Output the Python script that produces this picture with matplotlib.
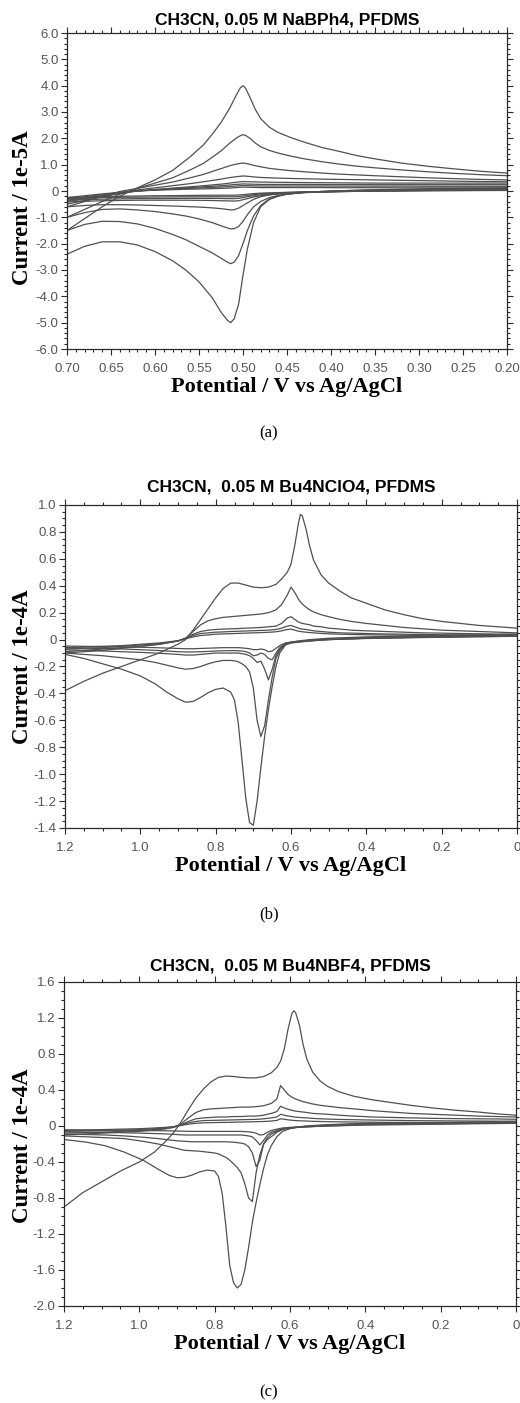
import numpy as np
import matplotlib.pyplot as plt
from matplotlib.ticker import MultipleLocator

plt.rcParams['font.family'] = ['Liberation Sans', 'DejaVu Sans']

# ---------------- panel (a): CH3CN, 0.05 M NaBPh4 ----------------
# forward (anodic) sweep 0.70 -> 0.20 V, one row per cycle
a_fwd_v = [0.70, 0.68, 0.66, 0.64, 0.62, 0.60, 0.58, 0.56, 0.545, 0.535, 0.525, 0.515,
           0.508, 0.503, 0.500, 0.497, 0.492, 0.486, 0.480, 0.470, 0.460, 0.445, 0.430,
           0.410, 0.390, 0.370, 0.350, 0.320, 0.290, 0.260, 0.230, 0.200]
a_fwd_i = [
    [-1.50, -1.05, -0.60, -0.20, 0.12, 0.42, 0.78, 1.30, 1.75, 2.15, 2.60, 3.15, 3.62, 3.92, 4.00, 3.90,
     3.55, 3.10, 2.75, 2.42, 2.22, 2.02, 1.85, 1.65, 1.50, 1.34, 1.22, 1.06, 0.94, 0.84, 0.75, 0.68],
    [-1.00, -0.70, -0.40, -0.12, 0.10, 0.30, 0.50, 0.80, 1.05, 1.28, 1.52, 1.82, 2.00, 2.10, 2.14, 2.11,
     2.00, 1.82, 1.68, 1.54, 1.44, 1.32, 1.22, 1.11, 1.02, 0.94, 0.88, 0.80, 0.73, 0.67, 0.62, 0.58],
    [-0.60, -0.40, -0.20, -0.02, 0.10, 0.22, 0.34, 0.50, 0.63, 0.74, 0.85, 0.96, 1.02, 1.05, 1.06, 1.05,
     1.01, 0.96, 0.92, 0.86, 0.82, 0.77, 0.73, 0.68, 0.64, 0.61, 0.58, 0.54, 0.50, 0.47, 0.44, 0.42],
    [-0.50, -0.36, -0.22, -0.08, 0.04, 0.12, 0.20, 0.28, 0.35, 0.40, 0.45, 0.51, 0.54, 0.56, 0.57, 0.565,
     0.55, 0.53, 0.515, 0.50, 0.49, 0.475, 0.465, 0.45, 0.44, 0.43, 0.42, 0.405, 0.39, 0.375, 0.36, 0.35],
    [-0.40, -0.30, -0.20, -0.09, 0.00, 0.06, 0.11, 0.16, 0.20, 0.23, 0.26, 0.30, 0.33, 0.35, 0.36, 0.355,
     0.35, 0.345, 0.34, 0.335, 0.33, 0.325, 0.32, 0.315, 0.31, 0.305, 0.30, 0.30, 0.30, 0.30, 0.30, 0.30],
    [-0.35, -0.26, -0.17, -0.08, 0.00, 0.05, 0.09, 0.13, 0.16, 0.18, 0.20, 0.23, 0.25, 0.26, 0.27, 0.265,
     0.26, 0.255, 0.25, 0.25, 0.25, 0.25, 0.25, 0.245, 0.245, 0.245, 0.24, 0.24, 0.24, 0.24, 0.24, 0.24],
    [-0.30, -0.22, -0.14, -0.06, 0.00, 0.04, 0.07, 0.10, 0.12, 0.14, 0.15, 0.17, 0.19, 0.20, 0.21, 0.205,
     0.20, 0.195, 0.19, 0.19, 0.19, 0.19, 0.19, 0.19, 0.185, 0.185, 0.185, 0.185, 0.18, 0.18, 0.18, 0.18],
    [-0.25, -0.18, -0.11, -0.05, 0.00, 0.03, 0.05, 0.07, 0.08, 0.09, 0.10, 0.11, 0.13, 0.14, 0.15, 0.145,
     0.14, 0.135, 0.13, 0.13, 0.13, 0.13, 0.13, 0.13, 0.125, 0.125, 0.125, 0.12, 0.12, 0.12, 0.12, 0.12],
]
# reverse (cathodic) sweep 0.20 -> 0.70 V
a_rev_v = [0.20, 0.25, 0.30, 0.35, 0.40, 0.43, 0.45, 0.46, 0.47, 0.48, 0.488, 0.495, 0.500, 0.505,
           0.510, 0.514, 0.518, 0.525, 0.535, 0.550, 0.565, 0.580, 0.600, 0.620, 0.640, 0.660, 0.680, 0.700]
a_rev_i = [
    [0.12, 0.10, 0.08, 0.05, 0.00, -0.05, -0.12, -0.20, -0.32, -0.60, -1.20, -2.20, -3.20, -4.30,
     -4.85, -5.00, -4.90, -4.60, -4.05, -3.45, -3.00, -2.65, -2.30, -2.05, -1.93, -1.93, -2.10, -2.40],
    [0.10, 0.08, 0.06, 0.04, 0.00, -0.05, -0.12, -0.18, -0.30, -0.55, -0.95, -1.50, -2.00, -2.45,
     -2.70, -2.76, -2.70, -2.55, -2.35, -2.10, -1.85, -1.65, -1.42, -1.25, -1.16, -1.15, -1.27, -1.50],
    [0.08, 0.06, 0.04, 0.02, -0.02, -0.06, -0.12, -0.17, -0.25, -0.40, -0.60, -0.90, -1.15, -1.35,
     -1.43, -1.44, -1.40, -1.32, -1.20, -1.06, -0.95, -0.87, -0.78, -0.72, -0.68, -0.70, -0.82, -1.00],
    [0.06, 0.05, 0.03, 0.01, -0.02, -0.05, -0.08, -0.11, -0.15, -0.22, -0.32, -0.45, -0.55, -0.65,
     -0.71, -0.72, -0.70, -0.67, -0.64, -0.61, -0.59, -0.57, -0.55, -0.53, -0.52, -0.52, -0.55, -0.60],
    [0.05, 0.04, 0.02, 0.00, -0.03, -0.06, -0.09, -0.11, -0.14, -0.18, -0.23, -0.29, -0.33, -0.37,
     -0.38, -0.38, -0.375, -0.37, -0.36, -0.355, -0.35, -0.35, -0.35, -0.35, -0.36, -0.37, -0.39, -0.42],
    [0.04, 0.03, 0.02, 0.00, -0.03, -0.05, -0.07, -0.09, -0.11, -0.14, -0.18, -0.22, -0.25, -0.28,
     -0.29, -0.29, -0.29, -0.285, -0.28, -0.28, -0.28, -0.285, -0.29, -0.29, -0.30, -0.31, -0.33, -0.35],
    [0.03, 0.02, 0.01, 0.00, -0.02, -0.04, -0.06, -0.07, -0.09, -0.11, -0.14, -0.17, -0.19, -0.21,
     -0.22, -0.22, -0.22, -0.22, -0.22, -0.22, -0.22, -0.225, -0.23, -0.235, -0.24, -0.25, -0.27, -0.30],
    [0.02, 0.015, 0.01, 0.00, -0.02, -0.03, -0.05, -0.06, -0.07, -0.08, -0.10, -0.12, -0.14, -0.15,
     -0.16, -0.16, -0.16, -0.16, -0.16, -0.165, -0.17, -0.175, -0.18, -0.19, -0.20, -0.21, -0.23, -0.25],
]

# ---------------- panel (b): CH3CN, 0.05 M Bu4NClO4 ----------------
b_fwd_v = [1.20, 1.15, 1.10, 1.05, 1.00, 0.95, 0.92, 0.90, 0.88, 0.86, 0.84, 0.82, 0.80, 0.78, 0.76,
           0.74, 0.72, 0.70, 0.68, 0.66, 0.64, 0.625, 0.61, 0.60, 0.59, 0.58, 0.575, 0.57, 0.56, 0.55,
           0.54, 0.52, 0.50, 0.47, 0.44, 0.40, 0.35, 0.30, 0.25, 0.20, 0.15, 0.10, 0.05, 0.00]
b_fwd_i = [
    [-0.38, -0.31, -0.25, -0.20, -0.15, -0.10, -0.06, -0.035, 0.00, 0.07, 0.15, 0.23, 0.31, 0.38, 0.42,
     0.42, 0.405, 0.39, 0.385, 0.39, 0.41, 0.45, 0.50, 0.56, 0.70, 0.87, 0.93, 0.92, 0.82, 0.69,
     0.59, 0.48, 0.42, 0.36, 0.31, 0.27, 0.22, 0.185, 0.155, 0.135, 0.12, 0.105, 0.095, 0.085],
    [-0.10, -0.09, -0.08, -0.065, -0.05, -0.035, -0.02, -0.01, 0.01, 0.06, 0.11, 0.14, 0.155, 0.165, 0.17,
     0.175, 0.18, 0.185, 0.19, 0.20, 0.22, 0.26, 0.33, 0.39, 0.35, 0.30, 0.28, 0.265, 0.24, 0.22,
     0.205, 0.185, 0.17, 0.15, 0.135, 0.12, 0.105, 0.09, 0.08, 0.07, 0.065, 0.06, 0.055, 0.05],
    [-0.09, -0.08, -0.07, -0.06, -0.05, -0.035, -0.02, -0.01, 0.01, 0.04, 0.06, 0.07, 0.075, 0.078, 0.08,
     0.082, 0.085, 0.087, 0.09, 0.095, 0.10, 0.12, 0.16, 0.17, 0.15, 0.13, 0.125, 0.12, 0.115, 0.11,
     0.10, 0.095, 0.085, 0.078, 0.07, 0.065, 0.06, 0.055, 0.05, 0.048, 0.045, 0.043, 0.041, 0.04],
    [-0.07, -0.065, -0.06, -0.05, -0.04, -0.03, -0.02, -0.01, 0.01, 0.03, 0.045, 0.05, 0.055, 0.057, 0.06,
     0.062, 0.064, 0.066, 0.068, 0.07, 0.075, 0.085, 0.10, 0.105, 0.095, 0.085, 0.08, 0.078, 0.075, 0.07,
     0.065, 0.06, 0.055, 0.05, 0.048, 0.045, 0.042, 0.04, 0.038, 0.036, 0.035, 0.034, 0.033, 0.032],
    [-0.06, -0.055, -0.05, -0.045, -0.035, -0.025, -0.015, -0.008, 0.005, 0.02, 0.03, 0.035, 0.04, 0.042, 0.044,
     0.046, 0.048, 0.05, 0.052, 0.054, 0.058, 0.065, 0.075, 0.078, 0.07, 0.062, 0.06, 0.058, 0.055, 0.052,
     0.05, 0.046, 0.043, 0.04, 0.038, 0.036, 0.034, 0.032, 0.03, 0.029, 0.028, 0.027, 0.026, 0.025],
]
b_rev_v = [0.00, 0.10, 0.20, 0.30, 0.40, 0.50, 0.55, 0.58, 0.60, 0.615, 0.63, 0.64, 0.65, 0.66, 0.67,
           0.68, 0.69, 0.70, 0.71, 0.72, 0.73, 0.74, 0.75, 0.76, 0.78, 0.80, 0.82, 0.84, 0.86, 0.88,
           0.90, 0.93, 0.96, 1.00, 1.05, 1.10, 1.15, 1.20]
b_rev_i = [
    [0.04, 0.035, 0.03, 0.025, 0.02, 0.01, 0.00, -0.01, -0.02, -0.04, -0.10, -0.20, -0.35, -0.52, -0.72,
     -0.95, -1.20, -1.38, -1.36, -1.18, -0.90, -0.62, -0.45, -0.39, -0.36, -0.37, -0.395, -0.43, -0.46, -0.465,
     -0.44, -0.39, -0.33, -0.27, -0.22, -0.18, -0.14, -0.11],
    [0.035, 0.03, 0.025, 0.02, 0.015, 0.005, -0.005, -0.015, -0.025, -0.04, -0.08, -0.14, -0.28, -0.45, -0.64,
     -0.72, -0.60, -0.36, -0.24, -0.20, -0.18, -0.165, -0.158, -0.155, -0.155, -0.165, -0.18, -0.20, -0.215, -0.22,
     -0.21, -0.19, -0.17, -0.15, -0.135, -0.12, -0.11, -0.10],
    [0.03, 0.025, 0.02, 0.015, 0.01, 0.00, -0.01, -0.02, -0.025, -0.035, -0.07, -0.12, -0.22, -0.30, -0.22,
     -0.16, -0.17, -0.14, -0.12, -0.11, -0.105, -0.10, -0.10, -0.10, -0.10, -0.10, -0.105, -0.11, -0.115, -0.115,
     -0.11, -0.105, -0.10, -0.095, -0.09, -0.085, -0.08, -0.075],
    [0.028, 0.024, 0.02, 0.015, 0.01, 0.00, -0.01, -0.015, -0.02, -0.03, -0.06, -0.10, -0.15, -0.14, -0.11,
     -0.10, -0.115, -0.12, -0.10, -0.09, -0.085, -0.083, -0.082, -0.082, -0.083, -0.085, -0.088, -0.09, -0.092, -0.092,
     -0.09, -0.085, -0.08, -0.075, -0.07, -0.066, -0.063, -0.06],
    [0.025, 0.02, 0.017, 0.013, 0.008, 0.00, -0.008, -0.012, -0.018, -0.025, -0.045, -0.065, -0.085, -0.09, -0.075,
     -0.07, -0.075, -0.075, -0.068, -0.065, -0.062, -0.06, -0.06, -0.06, -0.06, -0.062, -0.064, -0.066, -0.068, -0.068,
     -0.066, -0.063, -0.06, -0.057, -0.054, -0.052, -0.05, -0.048],
]

# ---------------- panel (c): CH3CN, 0.05 M Bu4NBF4 ----------------
c_fwd_v = [1.20, 1.15, 1.10, 1.05, 1.00, 0.96, 0.93, 0.91, 0.89, 0.87, 0.85, 0.83, 0.81, 0.79, 0.77,
           0.75, 0.73, 0.71, 0.69, 0.67, 0.65, 0.635, 0.625, 0.615, 0.605, 0.595, 0.59, 0.585, 0.575, 0.565,
           0.555, 0.54, 0.52, 0.50, 0.47, 0.43, 0.38, 0.33, 0.28, 0.22, 0.16, 0.10, 0.05, 0.00]
c_fwd_i = [
    [-0.90, -0.74, -0.62, -0.50, -0.40, -0.29, -0.17, -0.08, 0.04, 0.18, 0.31, 0.41, 0.49, 0.54, 0.555,
     0.55, 0.54, 0.535, 0.535, 0.55, 0.59, 0.65, 0.72, 0.86, 1.08, 1.25, 1.28, 1.26, 1.12, 0.90,
     0.74, 0.60, 0.50, 0.44, 0.38, 0.33, 0.29, 0.26, 0.23, 0.20, 0.175, 0.155, 0.135, 0.12],
    [-0.10, -0.09, -0.08, -0.07, -0.06, -0.045, -0.03, -0.015, 0.02, 0.09, 0.15, 0.18, 0.19, 0.195, 0.20,
     0.205, 0.21, 0.21, 0.215, 0.225, 0.25, 0.30, 0.45, 0.40, 0.35, 0.32, 0.31, 0.30, 0.285, 0.27,
     0.26, 0.245, 0.23, 0.22, 0.205, 0.19, 0.17, 0.155, 0.14, 0.13, 0.12, 0.11, 0.105, 0.10],
    [-0.08, -0.075, -0.07, -0.06, -0.05, -0.04, -0.03, -0.015, 0.01, 0.05, 0.08, 0.09, 0.095, 0.10, 0.10,
     0.105, 0.105, 0.11, 0.11, 0.12, 0.14, 0.16, 0.22, 0.20, 0.185, 0.175, 0.17, 0.165, 0.16, 0.155,
     0.15, 0.14, 0.135, 0.13, 0.12, 0.11, 0.10, 0.095, 0.09, 0.085, 0.082, 0.08, 0.078, 0.075],
    [-0.06, -0.055, -0.05, -0.045, -0.04, -0.03, -0.02, -0.01, 0.01, 0.035, 0.05, 0.06, 0.062, 0.064, 0.066,
     0.068, 0.07, 0.072, 0.074, 0.08, 0.09, 0.10, 0.13, 0.12, 0.11, 0.105, 0.10, 0.098, 0.095, 0.092,
     0.09, 0.085, 0.08, 0.077, 0.073, 0.07, 0.066, 0.063, 0.06, 0.058, 0.056, 0.055, 0.054, 0.053],
    [-0.05, -0.045, -0.04, -0.035, -0.03, -0.022, -0.015, -0.008, 0.005, 0.02, 0.03, 0.035, 0.037, 0.039, 0.04,
     0.042, 0.044, 0.046, 0.048, 0.05, 0.055, 0.062, 0.08, 0.075, 0.068, 0.064, 0.062, 0.06, 0.058, 0.056,
     0.055, 0.052, 0.05, 0.048, 0.046, 0.044, 0.042, 0.04, 0.039, 0.038, 0.037, 0.036, 0.035, 0.034],
]
c_rev_v = [0.00, 0.10, 0.20, 0.30, 0.40, 0.50, 0.56, 0.60, 0.62, 0.635, 0.65, 0.66, 0.67, 0.68, 0.69,
           0.70, 0.71, 0.72, 0.73, 0.74, 0.75, 0.76, 0.77, 0.78, 0.79, 0.80, 0.82, 0.84, 0.86, 0.88,
           0.90, 0.92, 0.95, 0.99, 1.04, 1.09, 1.14, 1.20]
c_rev_i = [
    [0.05, 0.045, 0.04, 0.035, 0.03, 0.015, 0.00, -0.03, -0.06, -0.12, -0.22, -0.32, -0.47, -0.65, -0.85,
     -1.07, -1.35, -1.60, -1.76, -1.80, -1.74, -1.55, -1.12, -0.75, -0.56, -0.50, -0.49, -0.51, -0.545, -0.57,
     -0.575, -0.55, -0.48, -0.38, -0.29, -0.22, -0.18, -0.15],
    [0.045, 0.04, 0.035, 0.03, 0.025, 0.01, -0.005, -0.02, -0.04, -0.07, -0.12, -0.15, -0.20, -0.32, -0.52,
     -0.84, -0.80, -0.64, -0.52, -0.46, -0.42, -0.38, -0.35, -0.33, -0.31, -0.30, -0.29, -0.28, -0.275, -0.27,
     -0.25, -0.23, -0.20, -0.17, -0.14, -0.13, -0.12, -0.11],
    [0.04, 0.035, 0.03, 0.025, 0.02, 0.005, -0.01, -0.02, -0.035, -0.06, -0.09, -0.13, -0.20, -0.38, -0.45,
     -0.30, -0.23, -0.20, -0.19, -0.185, -0.18, -0.178, -0.176, -0.175, -0.175, -0.175, -0.175, -0.175, -0.175, -0.17,
     -0.165, -0.155, -0.14, -0.125, -0.11, -0.10, -0.095, -0.09],
    [0.035, 0.03, 0.025, 0.02, 0.015, 0.00, -0.01, -0.02, -0.03, -0.05, -0.07, -0.10, -0.16, -0.21, -0.16,
     -0.12, -0.11, -0.105, -0.10, -0.10, -0.10, -0.10, -0.10, -0.10, -0.10, -0.10, -0.10, -0.10, -0.10, -0.10,
     -0.095, -0.09, -0.085, -0.08, -0.075, -0.07, -0.068, -0.065],
    [0.03, 0.025, 0.02, 0.015, 0.01, 0.00, -0.008, -0.015, -0.022, -0.035, -0.05, -0.07, -0.095, -0.10, -0.08,
     -0.07, -0.065, -0.062, -0.06, -0.06, -0.06, -0.06, -0.06, -0.06, -0.06, -0.06, -0.06, -0.06, -0.06, -0.058,
     -0.056, -0.054, -0.052, -0.05, -0.048, -0.046, -0.044, -0.042],
]

# tick labels
a_xticks = [0.70, 0.65, 0.60, 0.55, 0.50, 0.45, 0.40, 0.35, 0.30, 0.25, 0.20]
a_xlabels = ["0.70", "0.65", "0.60", "0.55", "0.50", "0.45", "0.40", "0.35", "0.30", "0.25", "0.20"]
a_yticks = [6, 5, 4, 3, 2, 1, 0, -1, -2, -3, -4, -5, -6]
a_ylabels = ["6.0", "5.0", "4.0", "3.0", "2.0", "1.0", "0", "-1.0", "-2.0", "-3.0", "-4.0", "-5.0", "-6.0"]
bc_xticks = [1.2, 1.0, 0.8, 0.6, 0.4, 0.2, 0.0]
bc_xlabels = ["1.2", "1.0", "0.8", "0.6", "0.4", "0.2", "0"]
b_yticks = [1.0, 0.8, 0.6, 0.4, 0.2, 0.0, -0.2, -0.4, -0.6, -0.8, -1.0, -1.2, -1.4]
b_ylabels = ["1.0", "0.8", "0.6", "0.4", "0.2", "0", "-0.2", "-0.4", "-0.6", "-0.8", "-1.0", "-1.2", "-1.4"]
c_yticks = [1.6, 1.2, 0.8, 0.4, 0.0, -0.4, -0.8, -1.2, -1.6, -2.0]
c_ylabels = ["1.6", "1.2", "0.8", "0.4", "0", "-0.4", "-0.8", "-1.2", "-1.6", "-2.0"]

W, H = 520, 1403
LINE = "#505050"
AXC = "#2a2a2a"
TICKC = "#555555"

fig = plt.figure(figsize=(W / 100, H / 100), dpi=100)


def fx(px):
    return px / W


def fy(py):
    return 1 - py / H


def panel(box, fwd_v, fwd_i, rev_v, rev_i, xlim, ylim, xt, xl, yt, yl, xminor, yminor,
          title, ylab, cap, cap_y, title_y, ylab_y):
    left, top, right, bottom = box
    ax = fig.add_axes([fx(left), fy(bottom), (right - left) / W, (bottom - top) / H])
    for row in fwd_i:
        ax.plot(fwd_v, row, color=LINE, lw=0.9)
    for row in rev_i:
        ax.plot(rev_v, row, color=LINE, lw=0.9)
    ax.set_xlim(*xlim)
    ax.set_ylim(*ylim)
    ax.set_xticks(xt)
    ax.set_xticklabels(xl)
    ax.set_yticks(yt)
    ax.set_yticklabels(yl)
    ax.xaxis.set_minor_locator(MultipleLocator(xminor))
    ax.yaxis.set_minor_locator(MultipleLocator(yminor))
    ax.tick_params(which="both", direction="out", top=True, right=True, color=AXC, width=0.8,
                   labelcolor=TICKC, labelsize=9.5)
    ax.tick_params(which="major", length=4)
    ax.tick_params(which="minor", length=2.2)
    ax.tick_params(axis="x", pad=6)
    ax.tick_params(axis="y", pad=2)
    for s in ax.spines.values():
        s.set_color(AXC)
        s.set_linewidth(0.9)
    xc = (left + right) / 2
    fig.text(fx(xc), fy(title_y), title, ha="center", va="center", fontsize=12.5,
             fontweight="bold", family="Liberation Sans")
    fig.text(fx(xc), fy(bottom + 38), "Potential / V vs Ag/AgCl", ha="center", va="center",
             fontsize=16, fontweight="bold", family="Liberation Serif")
    fig.text(fx(23), fy(ylab_y), ylab, ha="center", va="center", rotation=90,
             fontsize=16.5, fontweight="bold", family="Liberation Serif")
    fig.text(fx(269), fy(cap_y), cap, ha="center", va="center", fontsize=12,
             family="Liberation Serif")
    return ax


panel((67, 33, 507, 349), a_fwd_v, a_fwd_i, a_rev_v, a_rev_i, (0.70, 0.20), (-6, 6),
      a_xticks, a_xlabels, a_yticks, a_ylabels, 0.01, 0.2,
      "CH3CN, 0.05 M NaBPh4, PFDMS", "Current / 1e-5A", "(a)", 433, 20, 208)
panel((65, 505, 517, 828), b_fwd_v, b_fwd_i, b_rev_v, b_rev_i, (1.2, 0.0), (-1.4, 1.0),
      bc_xticks, bc_xlabels, b_yticks, b_ylabels, 0.05, 0.05,
      "CH3CN,  0.05 M Bu4NClO4, PFDMS", "Current / 1e-4A", "(b)", 914, 487, 667)
panel((64, 982, 516, 1306), c_fwd_v, c_fwd_i, c_rev_v, c_rev_i, (1.2, 0.0), (-2.0, 1.6),
      bc_xticks, bc_xlabels, c_yticks, c_ylabels, 0.05, 0.1,
      "CH3CN,  0.05 M Bu4NBF4, PFDMS", "Current / 1e-4A", "(c)", 1392, 966, 1146)

fig.savefig("out.png", dpi=100)
